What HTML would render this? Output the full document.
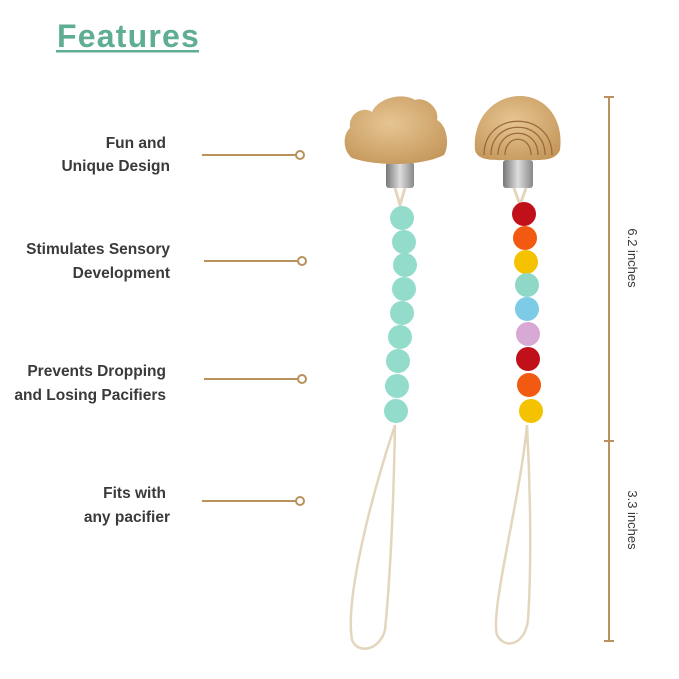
<!DOCTYPE html>
<html><head><style>body{margin:0;background:#fff}svg{display:block}</style></head><body>
<svg width="679" height="679" viewBox="0 0 679 679" xmlns="http://www.w3.org/2000/svg">
<defs>
<radialGradient id="wood" cx="45%" cy="40%" r="70%"><stop offset="0" stop-color="#e6c592"/><stop offset="1" stop-color="#c4965a"/></radialGradient>
<linearGradient id="metal" x1="0" x2="1"><stop offset="0" stop-color="#777"/><stop offset=".5" stop-color="#ddd"/><stop offset="1" stop-color="#888"/></linearGradient>
</defs>
<text x="57" y="47" font-family="Liberation Sans, sans-serif" font-weight="bold" font-size="32" letter-spacing="1.2" fill="#5fae93">Features</text>
<rect x="56" y="50" width="143" height="2.5" fill="#5fae93"/>
<g font-family="Liberation Sans, sans-serif" font-weight="bold" font-size="15.5" fill="#3a3a3a" text-anchor="end">
<text x="166" y="148">Fun and</text><text x="170" y="171">Unique Design</text>
<text x="170" y="254">Stimulates Sensory</text><text x="170" y="278">Development</text>
<text x="166" y="376">Prevents Dropping</text><text x="166" y="400">and Losing Pacifiers</text>
<text x="166" y="498">Fits with</text><text x="170" y="522">any pacifier</text>
</g>
<g stroke="#b8925a" stroke-width="2" fill="#fff">
<line x1="202" y1="155" x2="296" y2="155"/><circle cx="300" cy="155" r="4"/>
<line x1="204" y1="261" x2="298" y2="261"/><circle cx="302" cy="261" r="4"/>
<line x1="204" y1="379" x2="298" y2="379"/><circle cx="302" cy="379" r="4"/>
<line x1="202" y1="501" x2="296" y2="501"/><circle cx="300" cy="501" r="4"/>
<line x1="609" y1="97" x2="609" y2="641"/>
<line x1="604" y1="97" x2="614" y2="97"/><line x1="604" y1="441" x2="614" y2="441"/><line x1="604" y1="641" x2="614" y2="641"/>
</g>
<g font-family="Liberation Sans, sans-serif" font-size="13" fill="#3a3a3a" text-anchor="middle">
<text transform="translate(628,258) rotate(90)">6.2 inches</text>
<text transform="translate(628,520) rotate(90)">3.3 inches</text>
</g>
<g fill="none" stroke="#e3d6bd" stroke-width="2.5">
<path d="M395 425 C370 500 345 600 352 640 C358 655 380 650 385 630 C392 560 394 480 395 425"/>
<path d="M527 425 C520 500 490 610 497 635 C505 650 525 645 528 620 C532 560 530 480 527 425"/>
</g>
<rect x="386" y="162" width="28" height="26" rx="3" fill="url(#metal)"/>
<rect x="503" y="160" width="30" height="28" rx="3" fill="url(#metal)"/>
<path d="M395 188 L400 205 L405 188" stroke="#e3d6bd" stroke-width="3" fill="none"/>
<path d="M514 188 L520 205 L526 188" stroke="#e3d6bd" stroke-width="3" fill="none"/>
<path d="M350 128 C348 112 365 106 372 112 C378 98 402 92 415 100 C425 96 440 108 437 120 C447 125 450 145 444 155 C420 167 375 166 352 158 C342 150 343 134 350 128 Z" fill="url(#wood)"/>
<path d="M475 150 C472 118 495 96 520 96 C545 96 564 118 560 150 C555 162 540 160 517 160 C495 160 478 162 475 150 Z" fill="url(#wood)"/>
<g fill="none" stroke="#9a6a3a" stroke-width="1.3">
<path d="M484 155 C484 110 552 110 552 155"/><path d="M491 155 C491 118 545 118 545 155"/>
<path d="M498 155 C498 126 538 126 538 155"/><path d="M505 155 C505 134 531 134 531 155"/>
</g>
<g fill="#93dccb">
<circle cx="402" cy="218" r="12"/><circle cx="404" cy="242" r="12"/><circle cx="405" cy="265" r="12"/>
<circle cx="404" cy="289" r="12"/><circle cx="402" cy="313" r="12"/><circle cx="400" cy="337" r="12"/>
<circle cx="398" cy="361" r="12"/><circle cx="397" cy="386" r="12"/><circle cx="396" cy="411" r="12"/>
</g>
<circle cx="524" cy="214" r="12" fill="#c0101a"/>
<circle cx="525" cy="238" r="12" fill="#f15a10"/>
<circle cx="526" cy="262" r="12" fill="#f5c200"/>
<circle cx="527" cy="285" r="12" fill="#8fd8c8"/>
<circle cx="527" cy="309" r="12" fill="#7ecbe8"/>
<circle cx="528" cy="334" r="12" fill="#d9a9d6"/>
<circle cx="528" cy="359" r="12" fill="#c0101a"/>
<circle cx="529" cy="385" r="12" fill="#f15a10"/>
<circle cx="531" cy="411" r="12" fill="#f5c200"/>
</svg>
</body></html>
